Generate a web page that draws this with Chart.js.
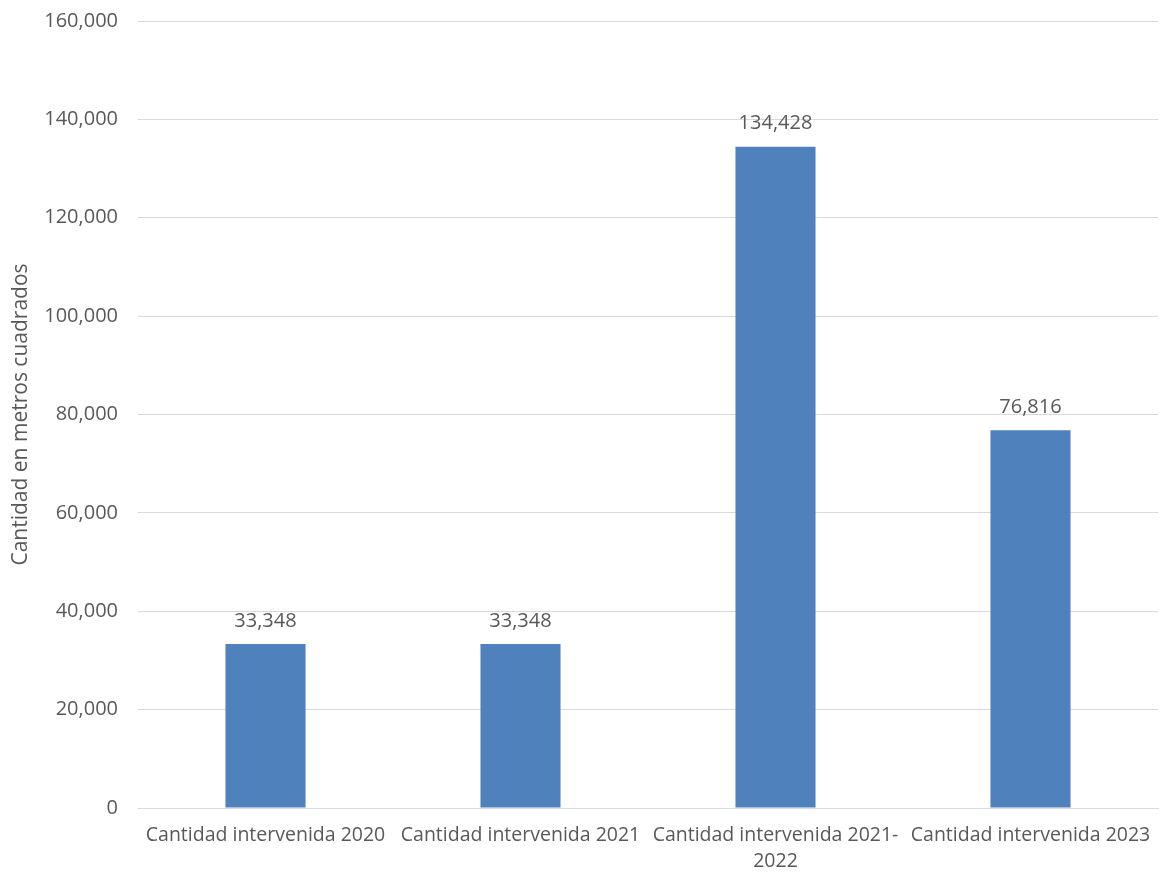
<!DOCTYPE html>
<html>
<head>
<meta charset="utf-8">
<script src="https://cdn.jsdelivr.net/npm/chart.js@4.4.1/dist/chart.umd.min.js"></script>
<style>
  html, body { margin: 0; padding: 0; background: #ffffff; }
  #wrap { width: 1161px; height: 876px; position: relative; }
</style>
</head>
<body>
<div id="wrap"><canvas id="c" width="1161" height="876"></canvas></div>
<script>
const categories = [
  'Cantidad intervenida 2020',
  'Cantidad intervenida 2021',
  ['Cantidad intervenida 2021-', '2022'],
  'Cantidad intervenida 2023'
];
const values = [33348, 33348, 134428, 76816];
const yTitle = 'Cantidad en metros cuadrados';
const yMin = 0, yMax = 160000, yStep = 20000;

const textColor = '#595959';
const fontFamily = '"Open Sans", "Liberation Sans", sans-serif';

const valueLabels = {
  id: 'valueLabels',
  afterDatasetsDraw(chart) {
    const ctx = chart.ctx;
    const meta = chart.getDatasetMeta(0);
    ctx.save();
    ctx.fillStyle = textColor;
    ctx.font = '20px ' + fontFamily;
    ctx.textAlign = 'center';
    ctx.textBaseline = 'middle';
    meta.data.forEach((bar, i) => {
      ctx.fillText(values[i].toLocaleString('en-US'), bar.x, bar.y - 23);
    });
    ctx.restore();
  }
};

new Chart(document.getElementById('c'), {
  type: 'bar',
  data: {
    labels: categories,
    datasets: [{
      data: values,
      backgroundColor: '#4F81BD',
      borderWidth: 0,
      barPercentage: 0.314,
      categoryPercentage: 1.0
    }]
  },
  options: {
    responsive: false,
    animation: false,
    layout: { padding: { top: 21, right: 3, left: 0, bottom: 0 } },
    plugins: { legend: { display: false }, tooltip: { enabled: false } },
    scales: {
      x: {
        grid: { display: false, drawTicks: false },
        border: { display: true, color: '#d9d9d9', width: 1 },
        ticks: {
          color: textColor,
          font: { family: fontFamily, size: 19.5, lineHeight: 1.3 },
          padding: 15,
          maxRotation: 0,
          minRotation: 0,
          autoSkip: false
        },
        afterFit(scale) { scale.height = 68; scale.paddingLeft = 0; scale.paddingRight = 0; }
      },
      y: {
        min: yMin,
        max: yMax,
        grid: { color: '#d9d9d9', drawTicks: false },
        border: { display: false },
        ticks: {
          stepSize: yStep,
          color: textColor,
          font: { family: fontFamily, size: 20 },
          padding: 20,
          callback: (v) => v.toLocaleString('en-US')
        },
        title: {
          display: true,
          text: yTitle,
          color: textColor,
          font: { family: fontFamily, size: 21 },
          padding: { top: 8, bottom: 4 }
        },
        afterFit(scale) { scale.width = 138; scale.paddingTop = 0; scale.paddingBottom = 0; }
      }
    }
  },
  plugins: [valueLabels]
});
</script>
</body>
</html>
